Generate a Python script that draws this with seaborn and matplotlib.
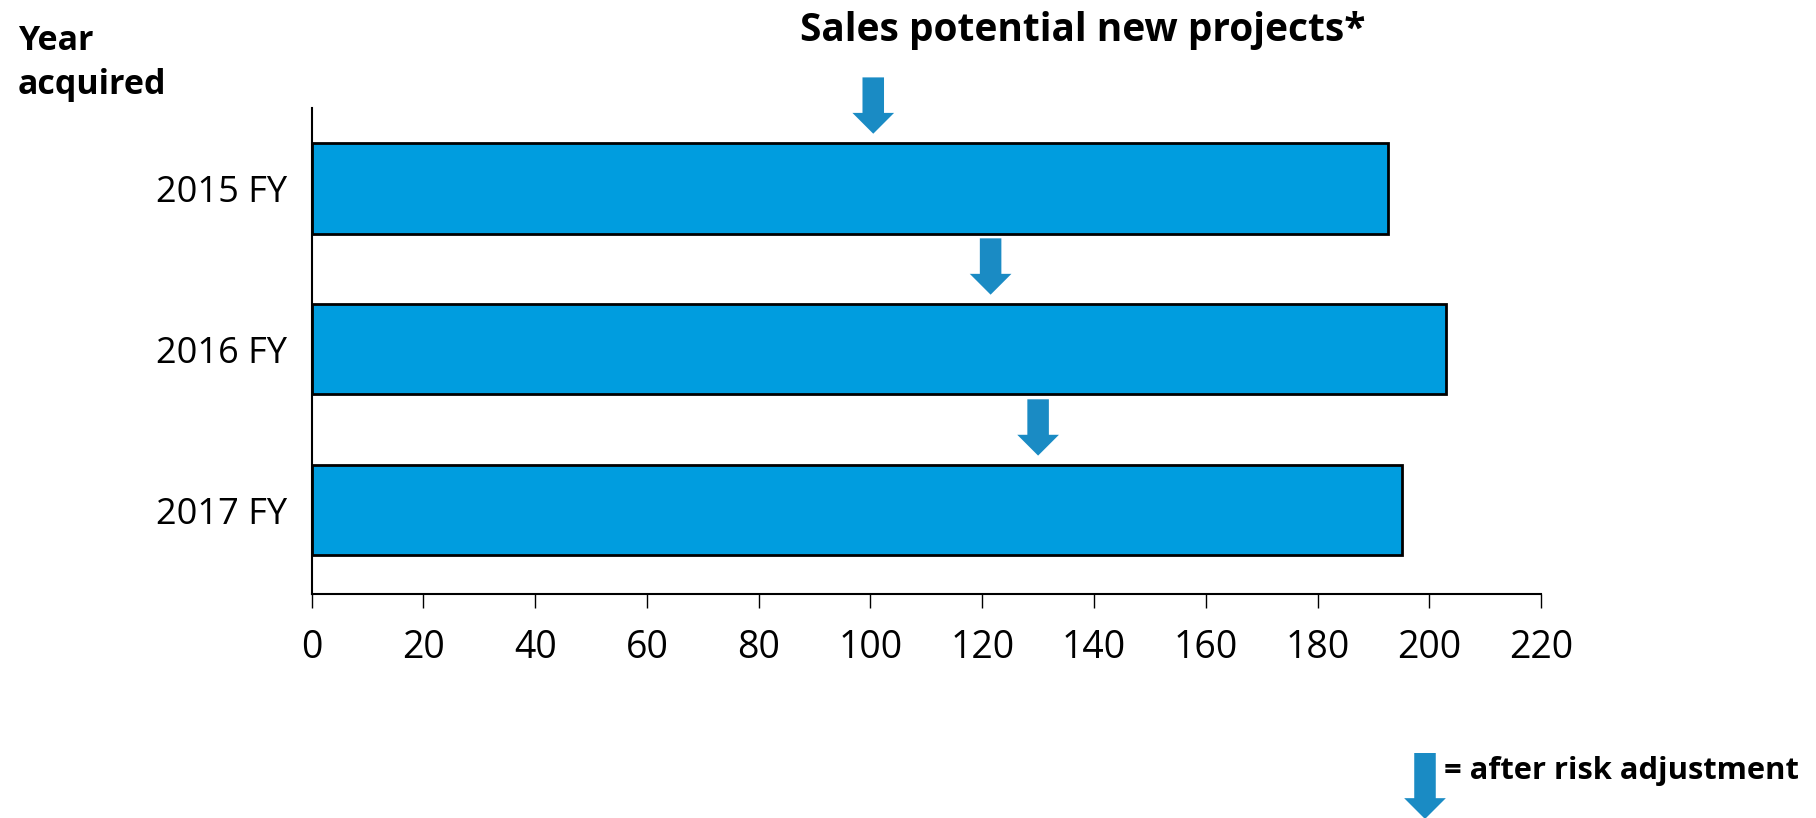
import matplotlib
matplotlib.use('Agg')
import matplotlib.pyplot as plt
import seaborn as sns
import pandas as pd

years = ['2015 FY', '2016 FY', '2017 FY']
sales_potential = [192.6, 203.0, 195.2]
risk_adjusted = [100.5, 121.5, 130.0]
x_ticks = list(range(0, 221, 20))

bar_color = '#009ddf'
arrow_color = '#1a8bc4'

sns.set_style('white')
plt.rcParams['font.family'] = ['Open Sans', 'DejaVu Sans']
plt.rcParams['text.color'] = 'black'
plt.rcParams['xtick.color'] = 'black'
plt.rcParams['ytick.color'] = 'black'

df = pd.DataFrame({'year': years, 'sales': sales_potential, 'risk': risk_adjusted})

fig = plt.figure(figsize=(18.16, 8.18), dpi=100)
ax = fig.add_axes([0.1716, 0.2738, 0.677, 0.5942])

sns.barplot(data=df, x='sales', y='year', orient='h', color=bar_color,
            saturation=1, edgecolor='black', linewidth=2, width=0.56, ax=ax)

# risk adjusted arrows above each bar
for i, v in enumerate(df['risk']):
    ax.annotate('', xy=(v, i - 0.34), xytext=(v, i - 0.69),
                xycoords='data', textcoords='data', annotation_clip=False,
                arrowprops=dict(width=15.5, headwidth=30, headlength=15,
                                shrink=0, color=arrow_color, linewidth=0))

ax.set_xlim(0, 220)
ax.set_ylim(2.52, -0.5)
ax.set_xticks(x_ticks)
ax.set_xlabel('')
ax.set_ylabel('')
for s in ['top', 'right']:
    ax.spines[s].set_visible(False)
for s in ['left', 'bottom']:
    ax.spines[s].set_color('black')
    ax.spines[s].set_linewidth(1.5)
ax.tick_params(axis='x', direction='out', length=10, width=1, color='black',
               labelsize=27, pad=15, bottom=True)
ax.tick_params(axis='y', length=0, labelsize=26, pad=18)

fig.text(0.596, 1 - 31 / 818, 'Sales potential new projects*', ha='center', va='center',
         fontsize=28, fontweight='bold')
fig.text(18 / 1816, 1 - 63 / 818, 'Year\nacquired', ha='left', va='center',
         fontsize=24.5, fontweight='bold', linespacing=1.4)

# legend glyph
fig.text(1444 / 1816, 47 / 818, '= after risk adjustment', ha='left', va='center',
         fontsize=22.2, fontweight='bold')
ax.annotate('', xy=(1425, -1), xytext=(1425, 65), xycoords='figure pixels',
            textcoords='figure pixels', annotation_clip=False,
            arrowprops=dict(width=15.5, headwidth=30, headlength=15,
                            shrink=0, color=arrow_color, linewidth=0))

fig.savefig('out.png', dpi=100)
